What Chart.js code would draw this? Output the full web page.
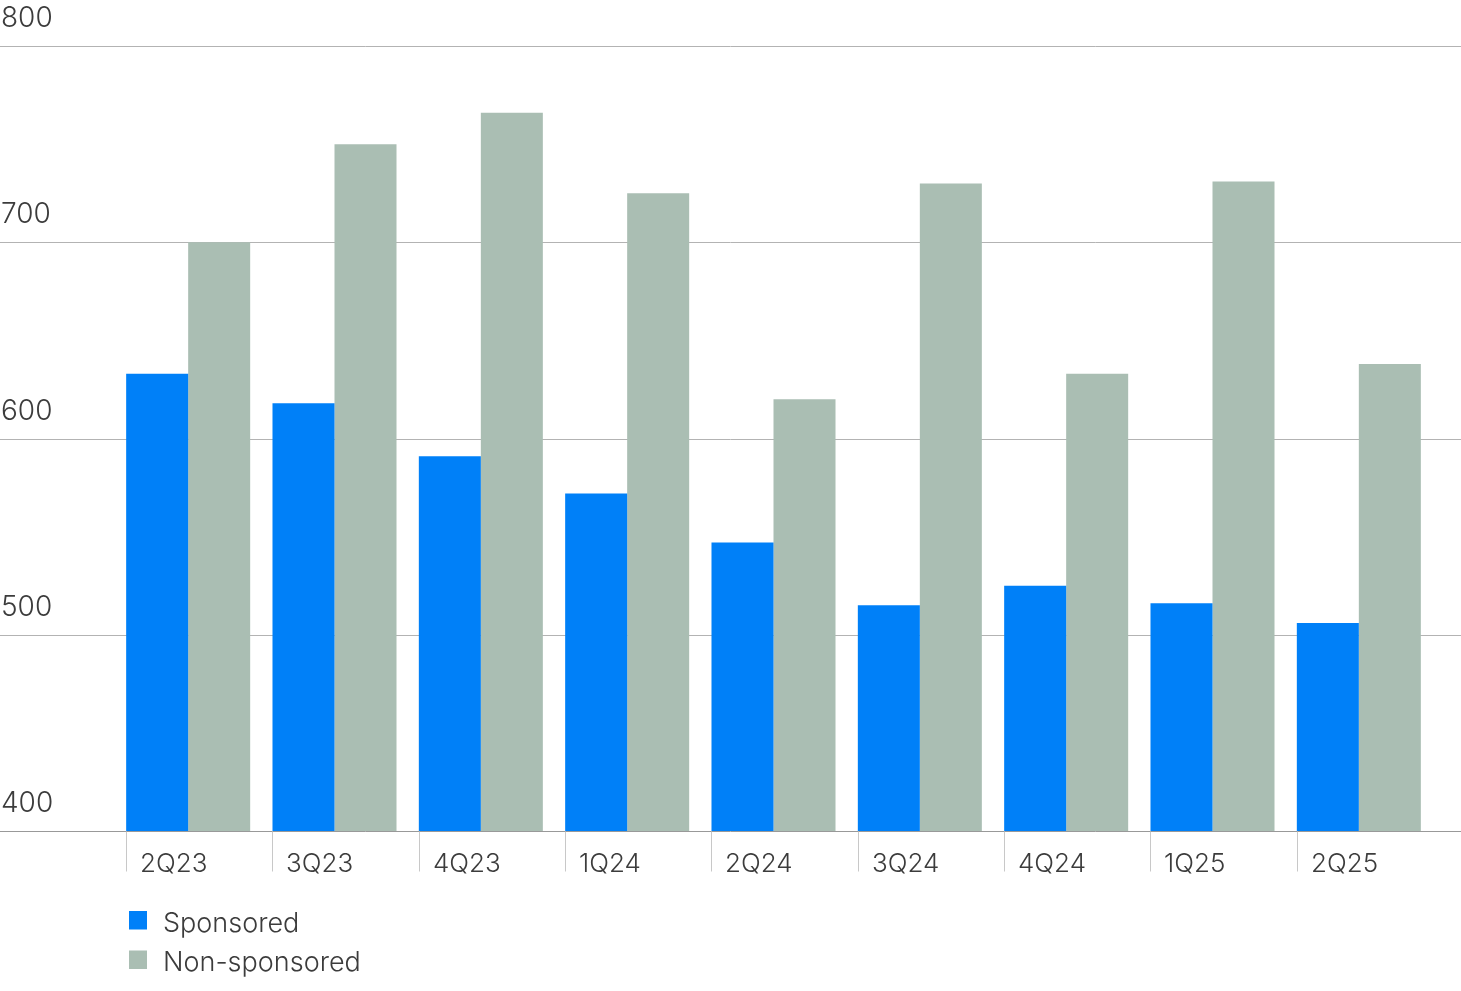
<!DOCTYPE html>
<html><head><meta charset="utf-8">
<script src="https://cdn.jsdelivr.net/npm/chart.js@4.4.1/dist/chart.umd.min.js"></script>
<style>html,body{margin:0;padding:0;background:#fff;overflow:hidden;} #wrap{width:1461px;height:991px;position:relative;}</style>
</head><body><div id="wrap"><canvas id="c"></canvas></div>
<script>
const categories = ['2Q23','3Q23','4Q23','1Q24','2Q24','3Q24','4Q24','1Q25','2Q25'];
const sponsored = [633,618,591,572,547,515,525,516,506];
const nonSponsored = [700,750,766,725,620,730,633,731,638];
const yTicks = [400,500,600,700,800];
const seriesNames = ['Sponsored','Non-sponsored'];
const seriesColors = ['#0080F8','#AABEB3'];
const FONT = 'Inter, "Liberation Sans", Arial, sans-serif';
const TEXT = '#3c3c3c';

const decor = {
  id: 'decor',
  beforeDatasetsDraw(chart) {
    const ctx = chart.ctx, y = chart.scales.y, W = chart.width;
    ctx.save();
    yTicks.forEach(v => {
      const py = Math.round(y.getPixelForValue(v)) + 0.5;
      if (v !== yTicks[0]) {
        ctx.strokeStyle = '#b3b3b3'; ctx.lineWidth = 1;
        ctx.beginPath(); ctx.moveTo(0, py); ctx.lineTo(W, py); ctx.stroke();
      }
      ctx.fillStyle = TEXT; ctx.font = '300 28px ' + FONT;
      ctx.textAlign = 'left'; ctx.textBaseline = 'alphabetic';
      ctx.fillText(String(v), 1, py - 20);
    });
    ctx.restore();
  },
  afterDatasetsDraw(chart) {
    const ctx = chart.ctx, y = chart.scales.y, W = chart.width;
    const meta = chart.getDatasetMeta(0);
    const py = Math.round(y.getPixelForValue(yTicks[0])) + 0.5;
    ctx.save();
    ctx.strokeStyle = '#999'; ctx.lineWidth = 1;
    ctx.beginPath(); ctx.moveTo(0, py); ctx.lineTo(W, py); ctx.stroke();
    // category separators and labels
    ctx.font = '300 26px ' + FONT; ctx.fillStyle = TEXT;
    ctx.textAlign = 'left'; ctx.textBaseline = 'alphabetic';
    meta.data.forEach((bar, i) => {
      const left = Math.round(bar.x - bar.width / 2) + 0.5;
      ctx.strokeStyle = '#c8c8c8';
      ctx.beginPath(); ctx.moveTo(left, py); ctx.lineTo(left, py + 40); ctx.stroke();
      ctx.fillText(categories[i], left + 13.5, py + 40);
    });
    // legend
    ctx.font = '300 27px ' + FONT;
    chart.data.datasets.forEach((ds, i) => {
      const top = 911 + i * 39.5;
      ctx.fillStyle = ds.backgroundColor;
      ctx.fillRect(129, top, 18, 18.5);
      ctx.fillStyle = TEXT;
      ctx.fillText(ds.label, 163, top + 20.5);
    });
    ctx.restore();
  }
};

new Chart(document.getElementById('c'), {
  type: 'bar',
  data: {
    labels: categories,
    datasets: [
      { label: seriesNames[0], data: sponsored, backgroundColor: seriesColors[0], borderWidth: 0 },
      { label: seriesNames[1], data: nonSponsored, backgroundColor: seriesColors[1], borderWidth: 0 }
    ]
  },
  options: {
    responsive: true, maintainAspectRatio: false, animation: false,
    layout: { padding: { left: 115, right: 29, top: 46, bottom: 160 } },
    categoryPercentage: 0.8475, barPercentage: 1.0,
    plugins: { legend: { display: false }, tooltip: { enabled: false } },
    scales: {
      x: { display: false },
      y: { display: false, min: 400, max: 800 }
    }
  },
  plugins: [decor]
});
</script>
</body></html>
